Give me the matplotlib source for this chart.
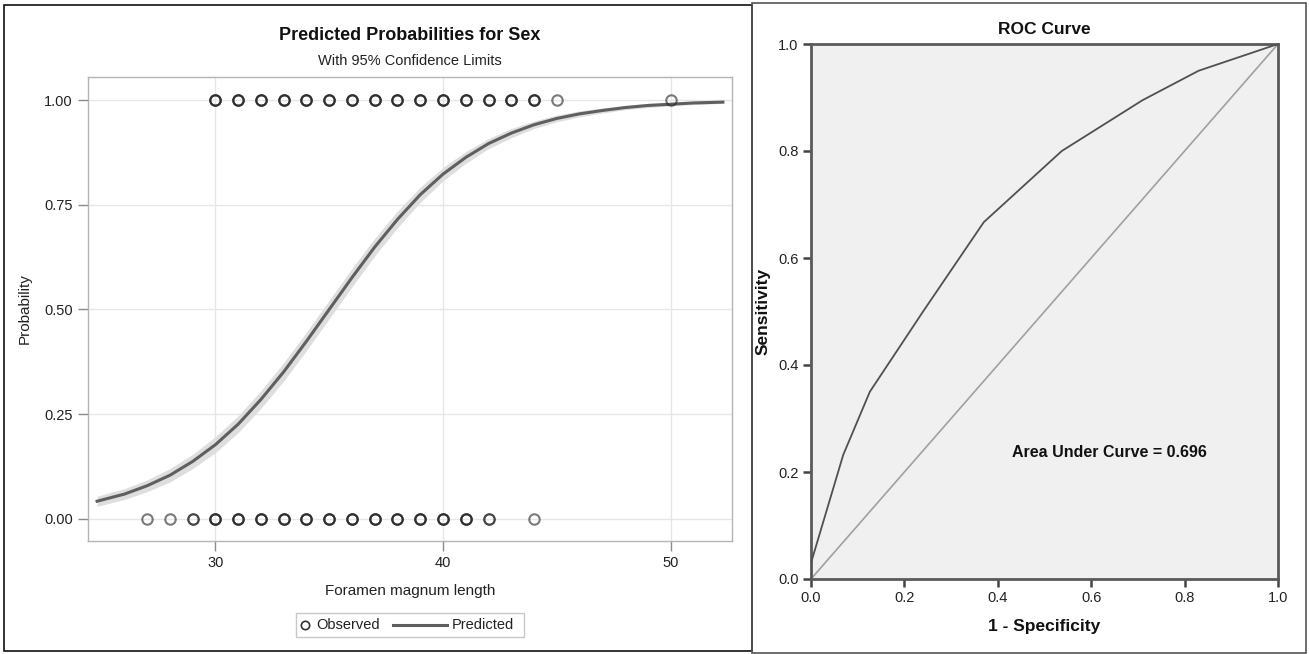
import numpy as np
import matplotlib
matplotlib.use("Agg")
import matplotlib.pyplot as plt
from matplotlib.patches import Rectangle
from matplotlib.lines import Line2D

# ---------------- data: predicted probabilities (left) ----------------
fm_length = [24.8, 26, 27, 28, 29, 30, 31, 32, 33, 34, 35, 36, 37, 38, 39,
             40, 41, 42, 43, 44, 45, 46, 47, 48, 49, 50, 51, 52.3]
pred_prob = [0.042, 0.059, 0.079, 0.104, 0.137, 0.177, 0.226, 0.285, 0.351,
             0.424, 0.500, 0.576, 0.649, 0.715, 0.774, 0.823, 0.863, 0.896,
             0.921, 0.941, 0.956, 0.967, 0.975, 0.982, 0.987, 0.990, 0.993,
             0.995]
ci_half = [0.012, 0.013, 0.014, 0.016, 0.017, 0.019, 0.020, 0.021, 0.022,
           0.022, 0.022, 0.022, 0.021, 0.020, 0.018, 0.016, 0.014, 0.012,
           0.011, 0.009, 0.008, 0.007, 0.006, 0.005, 0.005, 0.004, 0.004,
           0.003]

obs_x_female = [27, 28, 29, 30, 31, 32, 33, 34, 35, 36, 37, 38, 39, 40, 41, 42, 44]
obs_n_female = [1, 1, 2, 3, 3, 3, 3, 3, 3, 3, 3, 3, 3, 3, 3, 2, 1]
obs_x_male = [30, 31, 32, 33, 34, 35, 36, 37, 38, 39, 40, 41, 42, 43, 44, 45, 50]
obs_n_male = [3, 3, 3, 3, 3, 3, 3, 3, 3, 3, 3, 3, 3, 3, 3, 1, 1]

# ---------------- data: ROC curve (right) ----------------
fpr = [0.0, 0.0, 0.069, 0.126, 0.24, 0.37, 0.537, 0.71, 0.83, 1.0]
tpr = [0.0, 0.03, 0.232, 0.35, 0.50, 0.667, 0.80, 0.895, 0.95, 1.0]
auc_value = 0.696

W, H = 1309, 654
fig = plt.figure(figsize=(W / 100, H / 100), dpi=100)
narrow = ["Liberation Sans Narrow", "Liberation Sans", "DejaVu Sans"]
arial = ["Liberation Sans", "DejaVu Sans"]


def fx(px):
    return px / W


def fy(py):
    return 1 - py / H


# panel frames
fig.patches.append(Rectangle((fx(4), fy(651)), fx(748), 646 / H, transform=fig.transFigure,
                             fill=False, edgecolor="#111111", linewidth=1.2))
fig.patches.append(Rectangle((fx(752), fy(653)), fx(554), 650 / H, transform=fig.transFigure,
                             fill=False, edgecolor="#555555", linewidth=1.2))

# ---------------- left panel ----------------
ax1 = fig.add_axes([fx(88), fy(541), fx(644), 464 / H])
x = np.array(fm_length)
p = np.array(pred_prob)
hw = np.array(ci_half)
ax1.fill_between(x, p - hw, p + hw, color="#dedede", linewidth=0, zorder=2)
ax1.plot(x, p, color="#5f5f5f", linewidth=2.2, zorder=3)

for xs, ns, yv in [(obs_x_female, obs_n_female, 0.0), (obs_x_male, obs_n_male, 1.0)]:
    for xv, n in zip(xs, ns):
        for _ in range(n):
            ax1.plot([xv], [yv], marker="o", markersize=7.5, markerfacecolor="none",
                     markeredgecolor="#222222", markeredgewidth=1.5, alpha=0.6,
                     linestyle="none", zorder=4)

ax1.set_xlim(24.4, 52.7)
ax1.set_ylim(-0.053, 1.055)
ax1.set_xticks([30, 40, 50])
ax1.set_yticks([0, 0.25, 0.5, 0.75, 1.0])
ax1.set_yticklabels(["0.00", "0.25", "0.50", "0.75", "1.00"])
ax1.grid(True, color="#e6e6e6", linewidth=1.0, zorder=0)
ax1.set_axisbelow(True)
for s in ax1.spines.values():
    s.set_color("#b4b4b4")
    s.set_linewidth(1.0)
ax1.tick_params(colors="#8a8a8a", length=7, width=1.0, labelcolor="#222222",
                labelsize=10.5, pad=4)
for lab in ax1.get_xticklabels() + ax1.get_yticklabels():
    lab.set_family(narrow)
ax1.set_xlabel("Foramen magnum length", fontsize=11, family=narrow, color="#222222", labelpad=10)
ax1.set_ylabel("Probability", fontsize=11, family=narrow, color="#222222", labelpad=9)

fig.text(fx(410), fy(35), "Predicted Probabilities for Sex", ha="center", va="center",
         fontsize=13, fontweight="bold", family=narrow, color="#111111")
fig.text(fx(410), fy(61), "With 95% Confidence Limits", ha="center", va="center",
         fontsize=10.5, family=narrow, color="#222222")

# legend box below the left plot
fig.patches.append(Rectangle((fx(296), fy(637)), fx(228), 24 / H, transform=fig.transFigure,
                             fill=False, edgecolor="#c8c8c8", linewidth=1.0))
fig.lines.append(Line2D([fx(305)], [fy(625)], transform=fig.transFigure, marker="o",
                        markersize=6, markerfacecolor="none", markeredgecolor="#333333",
                        markeredgewidth=1.2, linestyle="none"))
fig.text(fx(316), fy(625), "Observed", ha="left", va="center", fontsize=10.5,
         family=narrow, color="#222222")
fig.lines.append(Line2D([fx(393), fx(447)], [fy(625), fy(625)], transform=fig.transFigure,
                        color="#5f5f5f", linewidth=2.2))
fig.text(fx(452), fy(625), "Predicted", ha="left", va="center", fontsize=10.5,
         family=narrow, color="#222222")

# ---------------- right panel ----------------
ax2 = fig.add_axes([fx(811), fy(579), fx(467), 535 / H])
ax2.set_facecolor("#f0f0f0")
ax2.plot([0, 1], [0, 1], color="#a0a0a0", linewidth=1.2, zorder=2)
ax2.plot(fpr, tpr, color="#505050", linewidth=1.3, zorder=3)
ax2.set_xlim(0, 1)
ax2.set_ylim(0, 1)
ticks = [0.0, 0.2, 0.4, 0.6, 0.8, 1.0]
ax2.set_xticks(ticks)
ax2.set_yticks(ticks)
ax2.set_xticklabels([f"{t:.1f}" for t in ticks])
ax2.set_yticklabels([f"{t:.1f}" for t in ticks])
for s in ax2.spines.values():
    s.set_color("#5a5a5a")
    s.set_linewidth(2.0)
ax2.tick_params(colors="#444444", length=6, width=1.8, labelcolor="#222222",
                labelsize=10.5, pad=3)
for lab in ax2.get_xticklabels() + ax2.get_yticklabels():
    lab.set_family(arial)
ax2.set_xlabel("1 - Specificity", fontsize=12.5, fontweight="bold", family=arial,
               color="#111111", labelpad=10)
ax2.set_ylabel("Sensitivity", fontsize=12.5, fontweight="bold", family=arial,
               color="#111111", labelpad=5)
ax2.set_title("ROC Curve", fontsize=12.5, fontweight="bold", family=arial,
              color="#111111", pad=7)
ax2.text(0.64, 0.237, f"Area Under Curve = {auc_value}", ha="center", va="center",
         fontsize=11.5, fontweight="bold", family=arial, color="#111111")

fig.savefig("out.png", dpi=100)
